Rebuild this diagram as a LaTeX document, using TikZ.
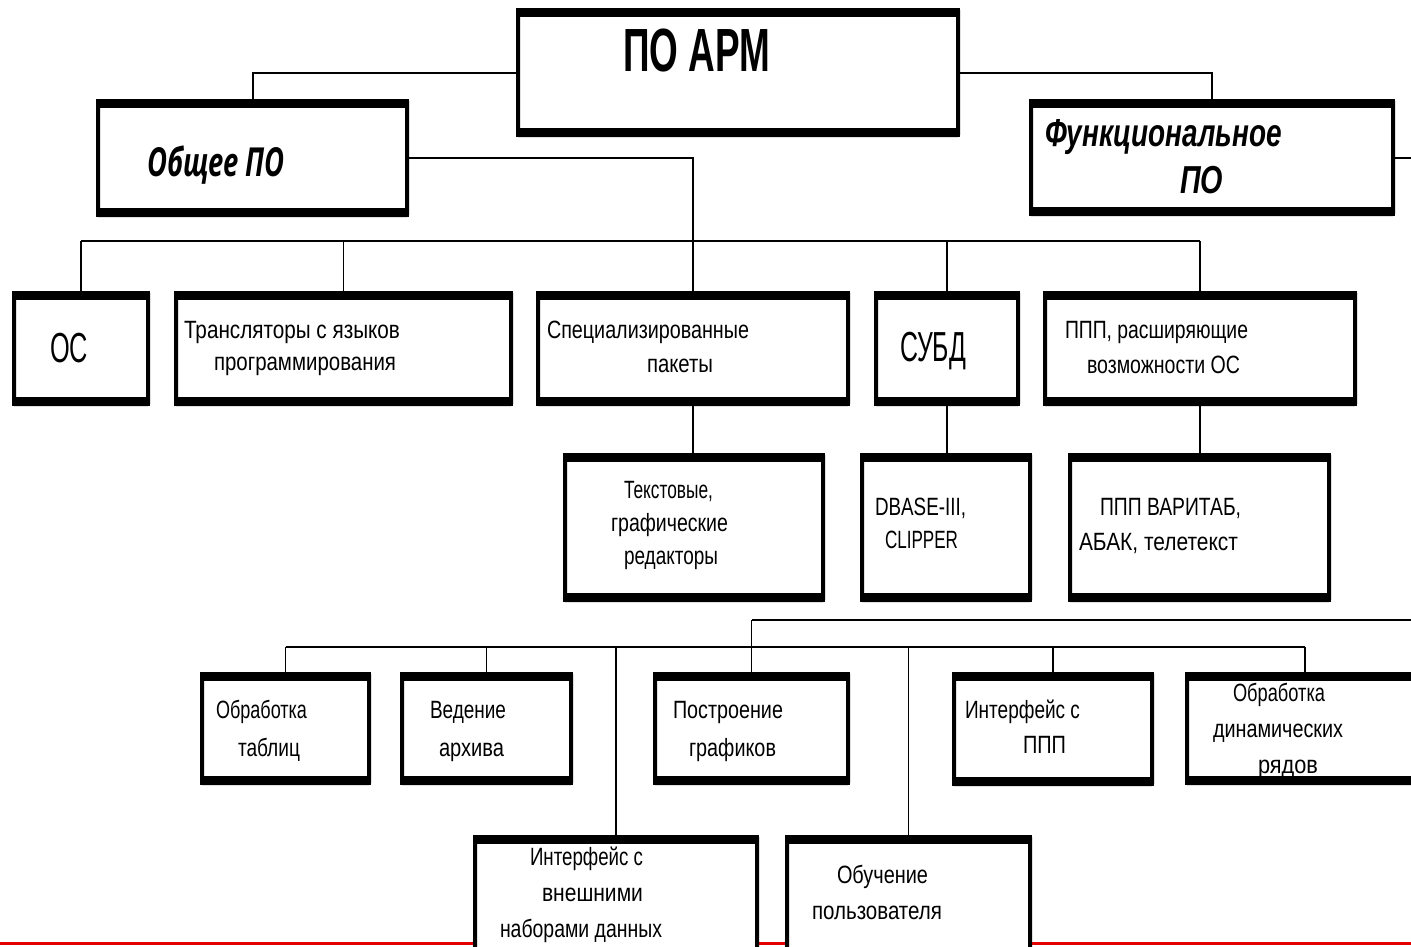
\documentclass[tikz,border=0pt]{standalone}
\usepackage{fontspec}
\usepackage{graphicx}
\setmainfont{Liberation Sans}
\newfontfamily\osans{Open Sans}
\tikzset{
  bx/.style={draw, fill=white, line width=4pt, inner sep=0pt, outer sep=0pt, rectangle, rounded corners=1pt},
  txt/.style={anchor=base west, inner sep=0pt, outer sep=0pt},
  hl/.style={line width=2.5pt},
  vl/.style={line width=1.5pt},
}
\newcommand\mkbox[5]{%
  \node[bx, minimum width={(#4-#2-4)*1pt}, minimum height={(#5-#3-4)*1pt}] (#1) at ({(#2+#4)/2},{(#3+#5)/2}) {};
  \fill ([xshift=-2pt,yshift=2pt]#1.north west) rectangle ([xshift=2pt,yshift=-7pt]#1.north east);
  \fill ([xshift=-2pt,yshift=7pt]#1.south west) rectangle ([xshift=2pt,yshift=-2pt]#1.south east);
}
\newcommand\tl[6]{%
  \node[txt] (#1) at ({#2},{#4+0.35*#5}) {\fontsize{#5}{#5}\selectfont\resizebox{\dimexpr#3pt-#2pt\relax}{\height}{#6}};
}
\begin{document}
\begin{tikzpicture}[x=1pt,y=-1pt]
\useasboundingbox (0,0) rectangle (1411,946);
\fill[white] (0,0) rectangle (1411,946);
\clip (0,0) rectangle (1411,946);
% red base line
\draw[red!90!black, line width=3pt] (0,943) -- (1411,943);
% boxes
\mkbox{root}{516}{8}{960}{137}
\mkbox{gen}{96}{99}{409}{217}
\mkbox{fun}{1029}{99}{1395}{216}
\mkbox{os}{12}{291}{150}{406}
\mkbox{trans}{174}{291}{513}{406}
\mkbox{spec}{536}{291}{850}{406}
\mkbox{subd}{874}{291}{1020}{406}
\mkbox{ppp}{1043}{291}{1357}{406}
\mkbox{txt}{563}{453}{825}{602}
\mkbox{dbase}{860}{453}{1032}{602}
\mkbox{vari}{1068}{453}{1331}{602}
\mkbox{tabl}{200}{672}{371}{785}
\mkbox{arch}{400}{672}{573}{785}
\mkbox{plot}{653}{672}{850}{785}
\mkbox{ippp}{952}{672}{1154}{786}
\mkbox{dyn}{1185}{672}{1425}{785}
\mkbox{ext}{473}{835}{759}{975}
\mkbox{learn}{785}{835}{1032}{975}
% connectors
\draw[line width=2pt] (root.west) -| (gen.north);
\draw[line width=2pt] (root.east) -| (fun.north);
\draw[line width=2pt] (gen.east) -| (spec.north);
\coordinate (b1) at (0,241);
\draw[hl] (os.north |- b1) -- (ppp.north |- b1);
\foreach \n in {os,trans,subd,ppp} \draw[vl] (\n.north) -- (\n.north |- b1);
\draw[vl] (spec.south) -- (spec.south |- txt.north);
\draw[vl] (subd.south) -- (subd.south |- dbase.north);
\draw[vl] (ppp.south) -- (ppp.south |- vari.north);
\coordinate (r1) at (1411,158);
\draw[line width=2pt] (fun.east) -- (fun.east -| r1);
\coordinate (r2) at (1411,620);
\draw[hl] (r2) -- (plot.north |- r2);
\draw[vl] (plot.north |- r2) -- (plot.north);
\coordinate (b2) at (0,647);
\draw[hl] (tabl.north |- b2) -- (dyn.north |- b2);
\foreach \n in {tabl,arch,ippp,dyn} \draw[vl] (\n.north) -- (\n.north |- b2);
\draw[vl] (ext.north) -- (ext.north |- b2);
\draw[vl] (learn.north) -- (learn.north |- b2);
% texts
\tl{t0}{623}{770}{50}{61}{\bfseries ПО АРМ}
\tl{t1}{147}{285}{162}{40}{\osans\bfseries\itshape Общее ПО}
\tl{t2}{1045}{1282}{133}{39}{\bfseries\itshape Функциональное}
\tl{t3}{1180}{1223}{180}{39}{\bfseries\itshape ПО}
\tl{t4}{50}{88}{348}{42}{ОС}
\tl{t5}{184}{400}{330}{25}{Трансляторы с языков}
\tl{t6}{214}{396}{362}{25}{программирования}
\tl{t7}{547}{749}{330}{25}{Специализированные}
\tl{t8}{647}{713}{364}{25}{пакеты}
\tl{t9}{900}{966}{347}{42}{СУБД}
\tl{t10}{1065}{1248}{330}{25}{ППП, расширяющие}
\tl{t11}{1087}{1240}{365}{25}{возможности ОС}
\tl{t12}{624}{713}{490}{25}{Текстовые,}
\tl{t13}{611}{728}{523}{25}{графические}
\tl{t14}{624}{718}{556}{25}{редакторы}
\tl{t15}{875}{966}{507}{25}{DBASE-III,}
\tl{t16}{885}{958}{540}{25}{CLIPPER}
\tl{t17}{1100}{1241}{507}{25}{ППП ВАРИТАБ,}
\tl{t18}{1079}{1238}{542}{25}{АБАК, телетекст}
\tl{t19}{216}{307}{710}{25}{Обработка}
\tl{t20}{238}{300}{748}{25}{таблиц}
\tl{t21}{430}{506}{710}{25}{Ведение}
\tl{t22}{439}{504}{748}{25}{архива}
\tl{t23}{673}{783}{710}{25}{Построение}
\tl{t24}{689}{776}{748}{25}{графиков}
\tl{t25}{965}{1080}{710}{25}{Интерфейс с}
\tl{t26}{1023}{1066}{745}{25}{ППП}
\tl{t27}{1233}{1325}{693}{25}{Обработка}
\tl{t28}{1213}{1343}{729}{25}{динамических}
\tl{t29}{1258}{1318}{765}{25}{рядов}
\tl{t30}{530}{643}{857}{25}{Интерфейс с}
\tl{t31}{542}{643}{893}{25}{внешними}
\tl{t32}{500}{662}{929}{25}{наборами данных}
\tl{t33}{837}{928}{875}{25}{Обучение}
\tl{t34}{812}{942}{911}{25}{пользователя}
\end{tikzpicture}
\end{document}
